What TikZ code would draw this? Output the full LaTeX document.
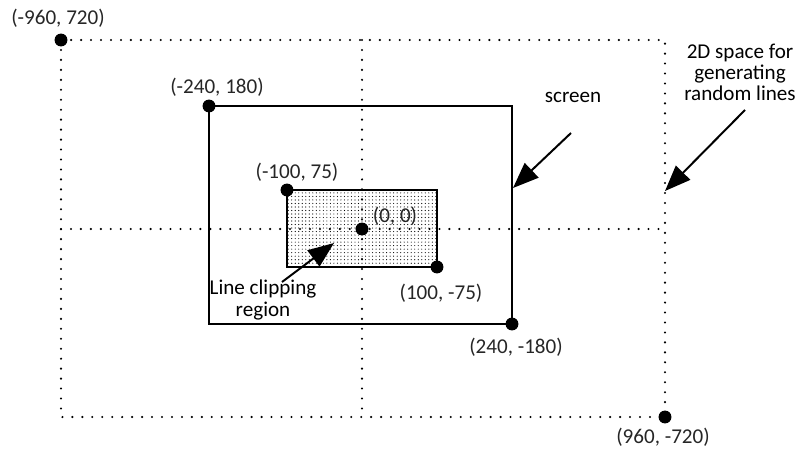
\documentclass[tikz,border=0pt]{standalone}
\usepackage{fontspec}
\setmainfont{Carlito}
\usetikzlibrary{arrows.meta, patterns, positioning}

\begin{document}
\begin{tikzpicture}[x=0.03cm, y=-0.03cm,
    font=\fontsize{18}{22}\selectfont,
    dotline/.style={line width=2pt, line cap=round, dash pattern=on 0pt off 8.5pt},
    corner/.style={circle, fill=black, inner sep=0pt, minimum size=11pt},
    coordlbl/.style={text=black!85, inner sep=1pt},
    bigarrow/.style={line width=1.7pt, -{Triangle[length=22pt, width=17pt]}}]
    \useasboundingbox (0,0) rectangle (809,453);
    % Corner points
    \coordinate (spaceTL) at (61,40);
    \coordinate (spaceBR) at (665,417);
    \coordinate (screenTL) at (209,106);
    \coordinate (screenBR) at (512,324);
    \coordinate (clipTL) at (287,190);
    \coordinate (clipBR) at (437,267);
    \coordinate (origin) at (362,229);
    % Space for random lines
    \draw[dotline] (spaceTL) rectangle (spaceBR);
    % Clipping region
    \filldraw[pattern=dots, pattern color=black, line width=0.9pt] (clipTL) rectangle (clipBR);
    % Axes through the origin
    \draw[dotline] (spaceTL |- origin) -- (spaceBR |- origin);
    \draw[dotline] (origin |- spaceTL) -- (origin |- spaceBR);
    % Screen
    \draw[line width=1.3pt] (screenTL) rectangle (screenBR);
    % Points
    \foreach \p in {spaceTL,spaceBR,screenTL,screenBR,clipTL,clipBR,origin}
        \node[corner] (dot-\p) at (\p) {};
    % Labels
    \node[coordlbl] (lblSpaceTL) at (58,18) {(-960, 720)};
    \node[coordlbl] (lblScreenTL) at (217,87) {(-240, 180)};
    \node[coordlbl] (lblClipTL) at (297,172) {(-100, 75)};
    \node[coordlbl] (lblOrigin) at (395,216) {(0, 0)};
    \node[coordlbl] (lblClipBR) at (441,293) {(100, -75)};
    \node[coordlbl] (lblScreenBR) at (516,347) {(240, -180)};
    \node[coordlbl] (lblSpaceBR) at (663,437) {(960, -720)};
    \node[align=center, inner sep=1pt] (clipText) at (263,300) {Line clipping\\[-4pt]region};
    \node[inner sep=1pt] (screenText) at (573,97) {screen};
    \node[align=center, inner sep=1pt] (spaceText) at (740,72) {2D space for\\[-4pt]generating\\[-4pt]random lines};
    % Arrows
    \coordinate (screenTip) at (513,188);
    \coordinate (spaceTip) at (665,191);
    \coordinate (clipTip) at (334,243);
    \draw[bigarrow] (571,133) -- (screenTip);
    \draw[bigarrow] (745,110) -- (spaceTip);
    \draw[bigarrow] (282,282) -- (clipTip);
\end{tikzpicture}
\end{document}
